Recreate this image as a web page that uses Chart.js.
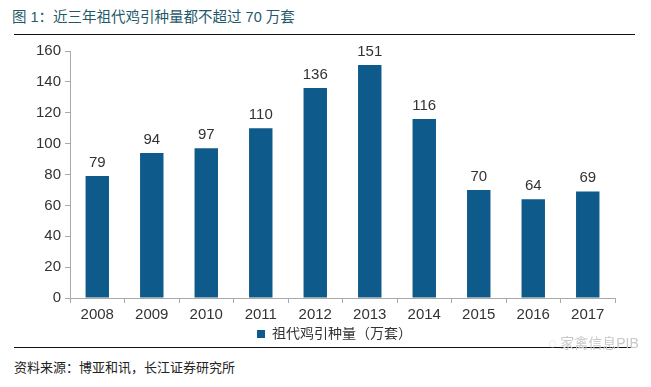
<!DOCTYPE html>
<html>
<head>
<meta charset="utf-8">
<script src="https://cdn.jsdelivr.net/npm/chart.js@4.4.0/dist/chart.umd.min.js"></script>
<style>
  body { margin: 0; background: #fff; width: 651px; height: 387px; overflow: hidden; position: relative;
         font-family: "Liberation Sans", "Noto Sans CJK SC", sans-serif; }
  #title { position: absolute; left: 12px; top: 5px; font-size: 14.5px; color: #1f5a6b; }
  .rule { position: absolute; left: 14px; width: 621px; height: 0; border-top: 1.5px solid #111; }
  #footer { position: absolute; left: 14px; top: 357px; font-size: 13px; color: #222; }
  #mark { position: absolute; left: 548px; top: 332px; font-size: 14px; color: #c8c8c8; }
  #wrap { position: absolute; left: 0; top: 36px; width: 651px; height: 315px; }
</style>
</head>
<body>
<div id="title">图 1：近三年祖代鸡引种量都不超过 70 万套</div>
<div class="rule" style="top:34px"></div>
<div id="wrap"><canvas id="bar-chart"></canvas></div>
<div class="rule" style="top:347px"></div>
<div id="mark">◌ 家禽信息PIB</div>
<div id="footer">资料来源：博亚和讯，长江证券研究所</div>
<script>
const years = ["2008", "2009", "2010", "2011", "2012", "2013", "2014", "2015", "2016", "2017"];
const imports = [79, 94, 97, 110, 136, 151, 116, 70, 64, 69];
const yTicks = [0, 20, 40, 60, 80, 100, 120, 140, 160];
const seriesName = "祖代鸡引种量（万套）";

const fontFamily = '"Liberation Sans", "Noto Sans CJK SC", sans-serif';

// value labels above each bar
const barLabels = {
  id: "barLabels",
  afterDatasetsDraw(chart) {
    const ctx = chart.ctx;
    const meta = chart.getDatasetMeta(0);
    ctx.save();
    ctx.font = "15px " + fontFamily;
    ctx.fillStyle = "#333";
    ctx.textAlign = "center";
    ctx.textBaseline = "bottom";
    meta.data.forEach((bar, i) => {
      ctx.fillText(imports[i], bar.x, bar.y - 6);
    });
    ctx.restore();
  },
};

// legend in the original sits a bit right of the canvas centre
const nudgeLegend = {
  id: "nudgeLegend",
  afterLayout(chart) {
    if (chart.legend) {
      chart.legend.left += 11;
      chart.legend.right += 11;
    }
  },
};

new Chart(document.getElementById("bar-chart"), {
  type: "bar",
  data: {
    labels: years,
    datasets: [
      {
        label: seriesName,
        data: imports,
        backgroundColor: "#0e5a8a",
        categoryPercentage: 1,
        barPercentage: 0.43,
      },
    ],
  },
  options: {
    responsive: true,
    maintainAspectRatio: false,
    animation: false,
    layout: { padding: { left: 32, right: 36, top: 15, bottom: 0 } },
    plugins: {
      legend: {
        position: "bottom",
        labels: {
          boxWidth: 8,
          boxHeight: 8,
          padding: 0,
          color: "#333",
          font: { size: 14, family: fontFamily },
        },
      },
      tooltip: { enabled: false },
    },
    scales: {
      x: {
        offset: true,
        grid: { offset: true, drawOnChartArea: false, drawTicks: true, tickLength: 5, color: "#aaa" },
        border: { color: "#aaa" },
        ticks: { color: "#333", font: { size: 15, family: fontFamily }, padding: 3 },
      },
      y: {
        min: 0,
        max: 160,
        afterBuildTicks: (axis) => {
          axis.ticks = yTicks.map((v) => ({ value: v }));
        },
        grid: { drawOnChartArea: false, drawTicks: true, tickLength: 5, color: "#aaa" },
        border: { color: "#aaa" },
        ticks: { color: "#333", font: { size: 15, family: fontFamily }, padding: 4 },
      },
    },
  },
  plugins: [barLabels, nudgeLegend],
});
</script>
</body>
</html>
